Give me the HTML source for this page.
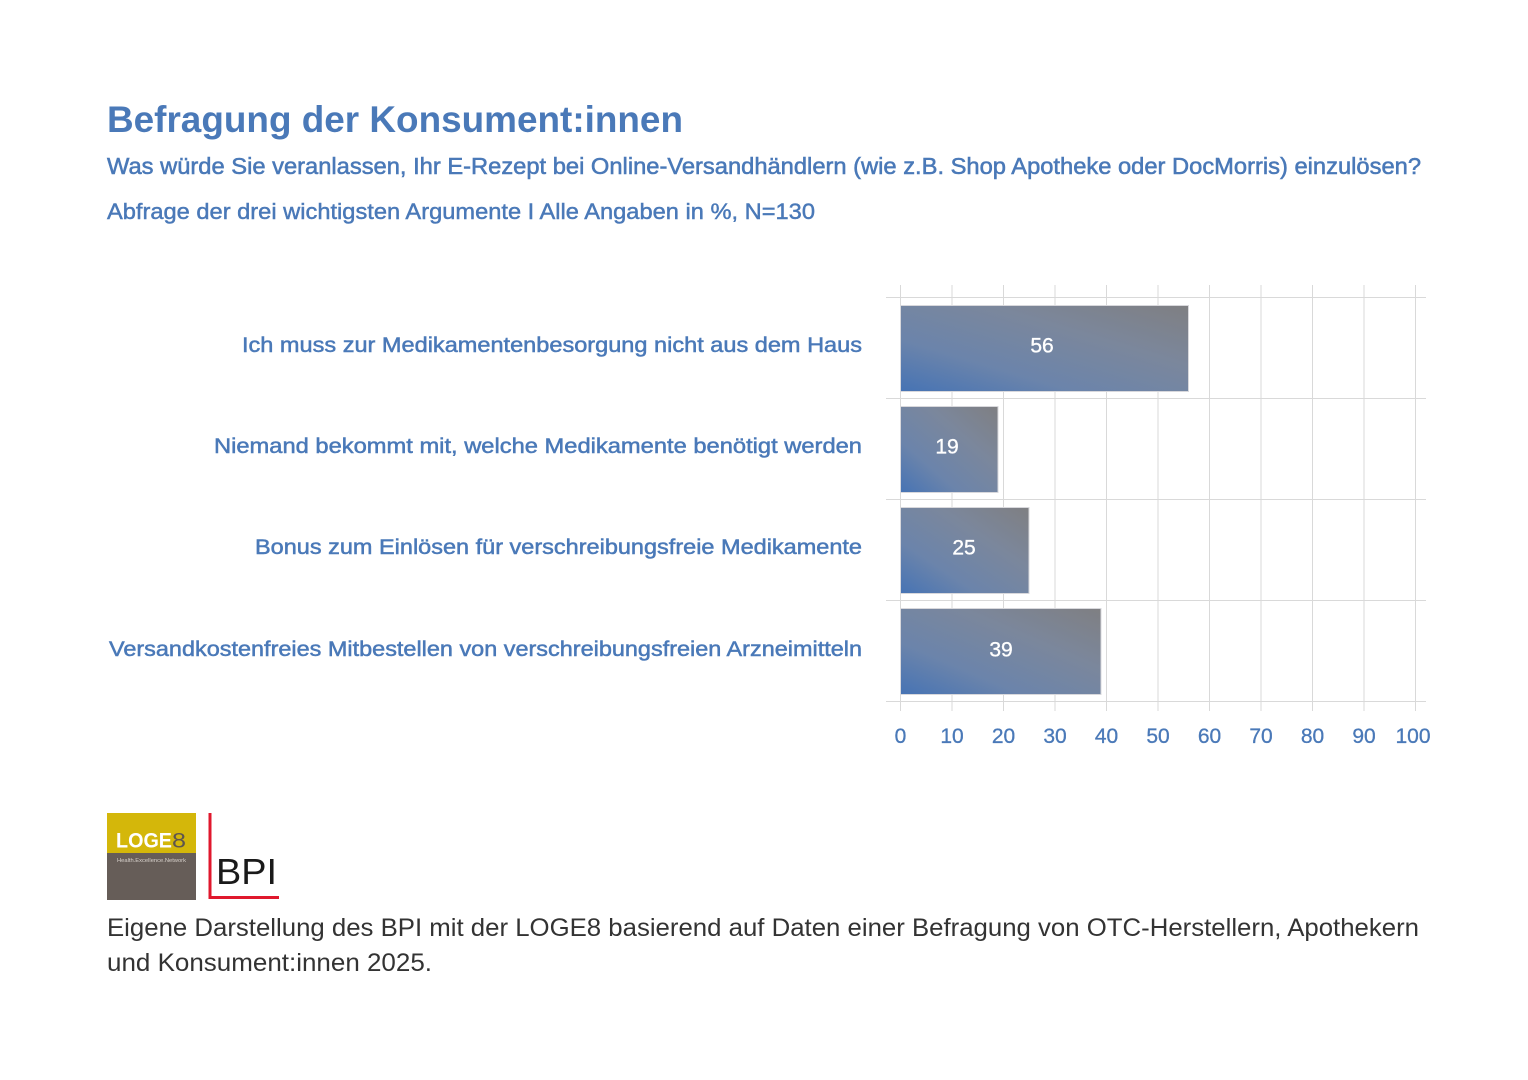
<!DOCTYPE html>
<html>
<head>
<meta charset="utf-8">
<style>
  html, body { margin: 0; padding: 0; background: #ffffff; }
  svg { display: block; }
  text { font-family: "Liberation Sans", "DejaVu Sans", sans-serif; }
</style>
</head>
<body>
<svg width="1528" height="1080" viewBox="0 0 1528 1080" xmlns="http://www.w3.org/2000/svg">
  <defs>
    <linearGradient id="bg" x1="0" y1="1" x2="1" y2="0" gradientUnits="objectBoundingBox">
      <stop offset="0" stop-color="#4673b4"/>
      <stop offset="0.3" stop-color="#6b84ab"/>
      <stop offset="0.65" stop-color="#7b879c"/>
      <stop offset="1" stop-color="#7f7f82"/>
    </linearGradient>
  </defs>
  <rect x="0" y="0" width="1528" height="1080" fill="#ffffff"/>

  <!-- Titles -->
  <text x="107" y="132" font-size="37" font-weight="bold" fill="#4a79b8" textLength="576" lengthAdjust="spacingAndGlyphs">Befragung der Konsument:innen</text>
  <text x="107" y="174" font-size="23" fill="#4a79b8" stroke="#4a79b8" stroke-width="0.55" textLength="1314" lengthAdjust="spacingAndGlyphs">Was würde Sie veranlassen, Ihr E-Rezept bei Online-Versandhändlern (wie z.B. Shop Apotheke oder DocMorris) einzulösen?</text>
  <text x="107" y="219" font-size="22" fill="#4a79b8" stroke="#4a79b8" stroke-width="0.45" textLength="708" lengthAdjust="spacingAndGlyphs">Abfrage der drei wichtigsten Argumente I Alle Angaben in %, N=130</text>

  <!-- Grid vertical lines -->
  <g stroke="#d9d9d9" stroke-width="1">
    <line x1="900.5" y1="285" x2="900.5" y2="711"/>
    <line x1="952" y1="285" x2="952" y2="711"/>
    <line x1="1003.5" y1="285" x2="1003.5" y2="711"/>
    <line x1="1055" y1="285" x2="1055" y2="711"/>
    <line x1="1106.5" y1="285" x2="1106.5" y2="711"/>
    <line x1="1158" y1="285" x2="1158" y2="711"/>
    <line x1="1209.5" y1="285" x2="1209.5" y2="711"/>
    <line x1="1261" y1="285" x2="1261" y2="711"/>
    <line x1="1312.5" y1="285" x2="1312.5" y2="711"/>
    <line x1="1364" y1="285" x2="1364" y2="711"/>
    <line x1="1415.5" y1="285" x2="1415.5" y2="711"/>
    <!-- horizontal -->
    <line x1="886" y1="297.5" x2="1426" y2="297.5"/>
    <line x1="886" y1="398.5" x2="1426" y2="398.5"/>
    <line x1="886" y1="499.5" x2="1426" y2="499.5"/>
    <line x1="886" y1="600.5" x2="1426" y2="600.5"/>
    <line x1="886" y1="701.5" x2="1426" y2="701.5"/>
  </g>

  <!-- Bars -->
  <g stroke="#d8d8dc" stroke-width="1">
    <rect x="900.5" y="305.5" width="288" height="86" fill="url(#bg)"/>
    <rect x="900.5" y="406.5" width="97.5" height="86" fill="url(#bg)"/>
    <rect x="900.5" y="507.5" width="128.5" height="86" fill="url(#bg)"/>
    <rect x="900.5" y="608.5" width="200.5" height="86" fill="url(#bg)"/>
  </g>

  <!-- Bar value labels -->
  <g font-size="21" fill="#ffffff" stroke="#ffffff" stroke-width="0.35" text-anchor="middle">
    <text x="1042" y="352.5">56</text>
    <text x="947" y="453.5">19</text>
    <text x="964" y="554.5">25</text>
    <text x="1001" y="656.5">39</text>
  </g>

  <!-- Category labels -->
  <g font-size="21" fill="#4a79b8" stroke="#4a79b8" stroke-width="0.5" text-anchor="end">
    <text x="862" y="352" textLength="620" lengthAdjust="spacingAndGlyphs">Ich muss zur Medikamentenbesorgung nicht aus dem Haus</text>
    <text x="862" y="453" textLength="648" lengthAdjust="spacingAndGlyphs">Niemand bekommt mit, welche Medikamente benötigt werden</text>
    <text x="862" y="554" textLength="607" lengthAdjust="spacingAndGlyphs">Bonus zum Einlösen für verschreibungsfreie Medikamente</text>
    <text x="862" y="656" textLength="753" lengthAdjust="spacingAndGlyphs">Versandkostenfreies Mitbestellen von verschreibungsfreien Arzneimitteln</text>
  </g>

  <!-- Tick labels -->
  <g font-size="21" fill="#4a79b8" stroke="#4a79b8" stroke-width="0.3" text-anchor="middle">
    <text x="900.5" y="743">0</text>
    <text x="952" y="743">10</text>
    <text x="1003.5" y="743">20</text>
    <text x="1055" y="743">30</text>
    <text x="1106.5" y="743">40</text>
    <text x="1158" y="743">50</text>
    <text x="1209.5" y="743">60</text>
    <text x="1261" y="743">70</text>
    <text x="1312.5" y="743">80</text>
    <text x="1364" y="743">90</text>
    <text x="1413" y="743">100</text>
  </g>

  <!-- LOGE8 logo -->
  <rect x="107" y="813" width="89" height="40" fill="#d4b70a"/>
  <rect x="107" y="853" width="89" height="47" fill="#665d58"/>
  <text x="116" y="847.5" font-size="21" font-weight="bold" fill="#ffffff" textLength="56" lengthAdjust="spacingAndGlyphs">LOGE</text>
  <text x="172" y="847.5" font-size="21" fill="#5e554f" textLength="14" lengthAdjust="spacingAndGlyphs">8</text>
  <text x="117" y="862" font-size="5.5" fill="#d8d2cc" textLength="69" lengthAdjust="spacingAndGlyphs">Health.Excellence.Network</text>

  <!-- BPI logo -->
  <rect x="208.5" y="813" width="3" height="86" fill="#e0182d"/>
  <rect x="208.5" y="896" width="70.5" height="3" fill="#e0182d"/>
  <text x="216" y="884" font-size="36" fill="#1a1a1a" textLength="61" lengthAdjust="spacingAndGlyphs">BPI</text>

  <!-- Footer -->
  <text x="107" y="936" font-size="25" fill="#333333" textLength="1312" lengthAdjust="spacingAndGlyphs">Eigene Darstellung des BPI mit der LOGE8 basierend auf Daten einer Befragung von OTC-Herstellern, Apothekern</text>
  <text x="107" y="971" font-size="25" fill="#333333" textLength="325" lengthAdjust="spacingAndGlyphs">und Konsument:innen 2025.</text>
</svg>
</body>
</html>
